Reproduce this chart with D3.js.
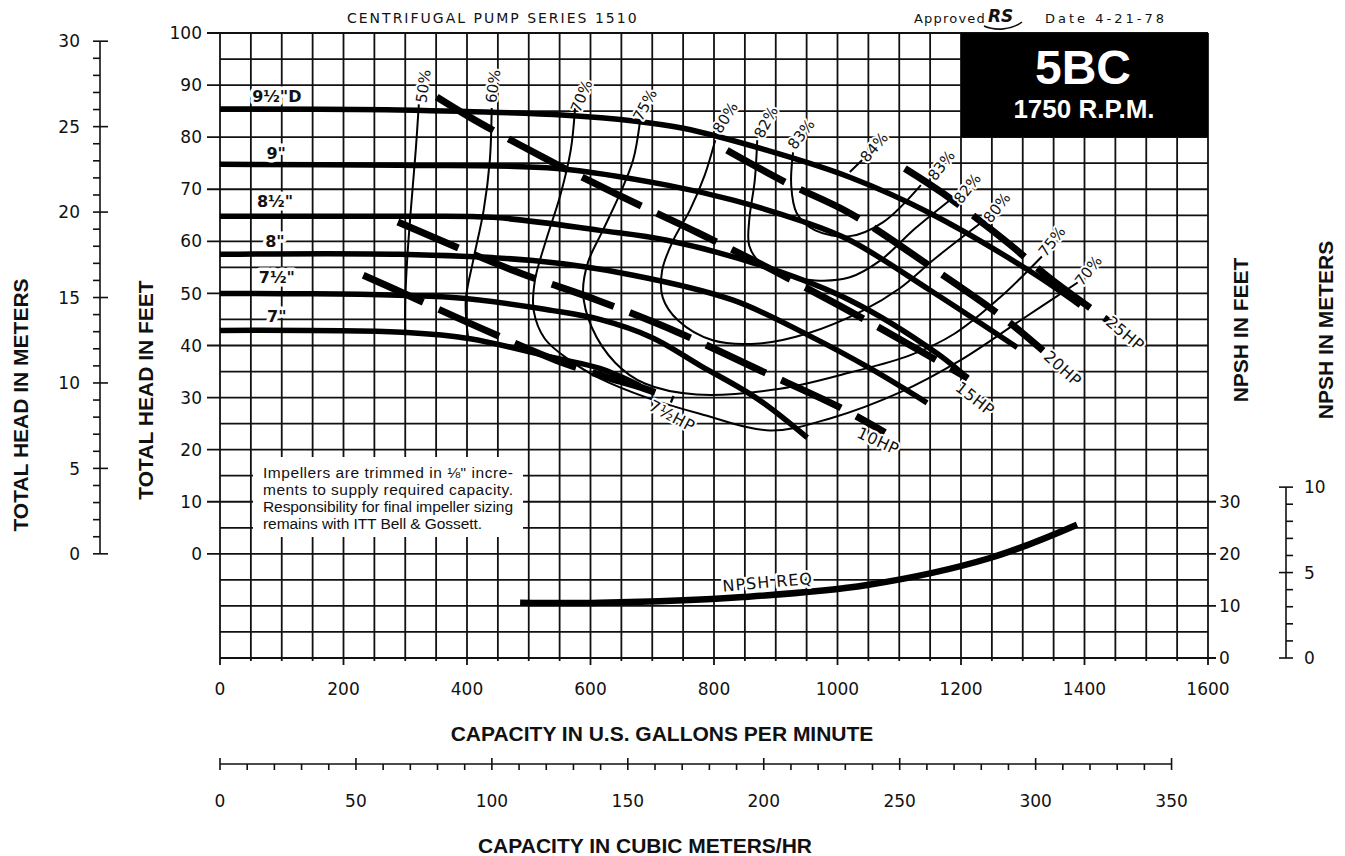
<!DOCTYPE html>
<html>
<head>
<meta charset="utf-8">
<script src="https://cdn.jsdelivr.net/npm/d3@7"></script>
<style>
  body { margin: 0; background: #fff; }
  svg { display: block; }
  .draft { font-family: "DejaVu Sans", sans-serif; fill: #111; }
  .bold { font-family: "Liberation Sans", Arial, sans-serif; font-weight: bold; fill: #111; }
  .narrow { font-family: "Liberation Sans Narrow", "Liberation Sans", Arial, sans-serif; fill: #111; }
  .halo { paint-order: stroke; stroke: #fff; stroke-linejoin: round; }
</style>
</head>
<body>
<svg id="chart" width="1345" height="856"></svg>
<script>
// ---- data (gpm, feet) ----
var gpmTicks = [0, 200, 400, 600, 800, 1000, 1200, 1400, 1600];
var headTicks = [0, 10, 20, 30, 40, 50, 60, 70, 80, 90, 100];
var meterTicks = [0, 5, 10, 15, 20, 25, 30];
var npshTicks = [0, 10, 20, 30];
var npshMeterTicks = [0, 5, 10];
var m3hTicks = [0, 50, 100, 150, 200, 250, 300, 350];

// impeller curves
var imp95 = [[0,85.4],[290,85.2],[560,84.2],[670,83.1],[750,81.7],[885,77.5],[1020,72.3],[1150,65.4],[1310,54.4],[1393,47.7]];
var imp90 = [[0,74.8],[291,74.6],[546,74.0],[724,70.8],[831,67.9],[939,64.0],[1020,60.2],[1150,50.6],[1291,39.6]];
var imp85 = [[0,64.8],[291,64.8],[442,64.6],[615,62.1],[724,60.2],[886,55.0],[1020,48.7],[1161,38.5],[1211,33.7]];
var imp80 = [[0,57.5],[291,57.5],[507,56.3],[669,53.5],[831,48.7],[954,41.9],[1053,35.6],[1145,29.0]];
var imp75 = [[0,50.0],[377,49.2],[539,46.7],[615,45.0],[700,41.5],[777,36.2],[870,29.8],[951,22.3]];
var imp70 = [[0,42.9],[303,42.5],[405,41.3],[539,37.7],[615,35.6],[680,32.3]];
var impNames = ["9½\"D", "9\"", "8½\"", "8\"", "7½\"", "7\""];
var impLabelAt = [[92,87.9],[91,76.9],[89,67.7],[89,60.0],[92,53.1],[92,45.6]];

// brake horsepower lines
var hp75 = [[232,53.5],[283,50.8],[402,44.4],[546,37.1],[632,33.7],[683,31.9],[734,29.6]];
var hp10 = [[288,63.7],[475,54.4],[611,48.7],[742,42.5],[875,35.2],[1004,28.1],[1077,23.3]];
var hp15 = [[351,87.7],[405,83.8],[522,76.2],[643,69.0],[773,61.7],[896,54.4],[1053,44.4],[1211,33.7]];
var hp20 = [[821,77.5],[918,71.2],[1020,65.4],[1155,54.8],[1268,45.4],[1333,39.0]];
var hp25 = [[1109,74.0],[1171,69.2],[1275,59.8],[1344,52.9],[1438,44.8]];
var hpNames = ["7½HP", "10HP", "15HP", "20HP", "25HP"];
var hpLabelAt = [[732,26.5],[1066,21.7],[1223,29.8],[1365,35.6],[1466,42.3]];
var hpLabelRot = [28, 25, 38, 42, 40];

// efficiency contours
var eff50 = [[322,86.3],[317,77.5],[309,66.0],[303,56.3],[300,48.7],[300,41.9]];
var eff60 = [[440,85.6],[437,75.6],[427,66.0],[410,56.3],[398,48.7],[402,41.3]];
var eff70 = [[575,85.6],[568,77.5],[551,68.8],[528,60.2],[510,52.5],[508,46.7],[526,41.3],[567,37.1],[615,33.7],[696,29.8],[777,26.9],[891,23.7],[988,26.0],[1101,31.0],[1198,37.1],[1296,44.8],[1389,52.1]];
var eff75 = [[680,82.9],[669,75.6],[648,69.2],[620,62.1],[596,56.0],[588,50.2],[602,43.5],[640,36.7],[688,32.7],[772,30.6],[907,31.7],[1020,34.8],[1117,38.1],[1190,42.3],[1263,49.2],[1331,57.1]];
var eff80 = [[802,79.4],[785,72.7],[761,66.0],[734,60.2],[716,54.4],[717,49.2],[742,44.8],[798,41.0],[874,40.4],[951,42.3],[1041,46.7],[1101,51.0],[1158,56.7],[1234,63.7]];
var eff82 = [[870,79.4],[866,71.7],[857,64.0],[857,59.2],[874,56.0],[915,53.7],[964,52.5],[1020,53.1],[1069,56.3],[1126,62.5],[1182,67.9]];
var eff83 = [[928,77.1],[925,70.8],[934,65.4],[964,62.1],[1020,61.0],[1074,63.7],[1135,70.8]];
var eff84Leader = [[1020,73.3],[1040,75.6]];
var effNames = ["50%", "60%", "70%", "75%", "80%", "82%", "83%", "84%"];
var effLabelAt = [[329,89.8],[442,89.8],[585,87.9],[688,86.2],[818,83.8],[884,82.9],[941,80.6],[1059,78.1]];
var effLabelRot = [-82, -82, -68, -62, -58, -62, -52, -50];
var effRightNames = ["70%", "75%", "80%", "82%", "83%"];
var effRightAt = [[1406,54.4],[1347,60.0],[1258,66.5],[1210,70.2],[1168,74.6]];

// NPSH required (gpm, feet of NPSH)
var npshReq = [[486,10.6],[615,10.6],[847,11.7],[1048,14.0],[1247,19.2],[1388,25.6]];

var noteLines = ["Impellers are trimmed in \u215B\" incre-", "ments to supply required capacity.",
                 "Responsibility for final impeller sizing", "remains with ITT Bell & Gossett."];

// ---- scales ----
var x = d3.scaleLinear().domain([0, 1600]).range([220, 1208]);
var y = d3.scaleLinear().domain([-20, 100]).range([658, 33]);
var yM = d3.scaleLinear().domain([0, 30]).range([y(0), y(30 * 3.28084)]);     // meters of head
var yN = d3.scaleLinear().domain([0, 30]).range([y(-20), y(10)]);            // NPSH feet
var yNM = d3.scaleLinear().domain([0, 10]).range([y(-20), y(-20 + 32.8084)]); // NPSH meters
var xM = d3.scaleLinear().domain([0, 350]).range([x(0), x(350 * 4.40287)]);   // m3/hr

var svg = d3.select("#chart");
svg.append("rect").attr("width", 1345).attr("height", 856).attr("fill", "#fff");

// grid
var grid = svg.append("g").attr("stroke", "#111").attr("stroke-width", 1.8);
grid.selectAll("line.v").data(d3.range(0, 1601, 50)).enter().append("line")
    .attr("x1", d => x(d)).attr("x2", d => x(d))
    .attr("y1", y(100)).attr("y2", d => y(-20) + (d % 200 === 0 ? 7 : 3));
grid.selectAll("line.h").data(d3.range(-20, 101, 5)).enter().append("line")
    .attr("y1", d => y(d)).attr("y2", d => y(d))
    .attr("x1", d => (d >= 0 && d % 10 === 0) ? x(0) - 13 : x(0))
    .attr("x2", d => x(1600) + ((d + 20) % 10 === 0 && d <= 10 ? 8 : 0));

// note box
svg.append("rect").attr("x", 253).attr("y", 457).attr("width", 270).attr("height", 80).attr("fill", "#fff");
svg.selectAll("text.note").data(noteLines).enter().append("text")
    .attr("class", "narrow")
    .attr("x", 263).attr("y", (d, i) => 478 + i * 17)
    .attr("font-size", 15.5)
    .attr("textLength", (d, i) => i < 3 ? 250 : 219)
    .attr("lengthAdjust", "spacing")
    .text(d => d);

// model box
svg.append("rect").attr("x", x(1200)).attr("y", y(100))
    .attr("width", x(1600) - x(1200)).attr("height", y(80) - y(100)).attr("fill", "#000");
svg.append("text").attr("class", "bold").attr("x", 1083).attr("y", 84)
    .attr("text-anchor", "middle").attr("font-size", 48).style("fill", "#fff").text("5BC");
svg.append("text").attr("class", "bold").attr("x", 1084).attr("y", 118)
    .attr("text-anchor", "middle").attr("font-size", 26).style("fill", "#fff").text("1750 R.P.M.");

// curves
var line = d3.line().x(d => x(d[0])).y(d => y(d[1])).curve(d3.curveCatmullRom.alpha(0.5));
var curves = svg.append("g").attr("fill", "none").attr("stroke", "#000");

[eff50, eff60, eff70, eff75, eff80, eff82, eff83, eff84Leader].forEach(function(c) {
    curves.append("path").attr("d", line(c)).attr("stroke-width", 2);
});
[imp95, imp90, imp85, imp80, imp75, imp70].forEach(function(c) {
    curves.append("path").attr("d", line(c)).attr("stroke-width", 5.5);
});
[hp75, hp10, hp15, hp20, hp25].forEach(function(c) {
    curves.append("path").attr("d", line(c)).attr("stroke-width", 7)
        .attr("stroke-dasharray", "66,17");
});
var npshLine = d3.line().x(d => x(d[0])).y(d => yN(d[1])).curve(d3.curveCatmullRom.alpha(0.5));
curves.append("path").attr("d", npshLine(npshReq)).attr("stroke-width", 6.5);

// curve labels
var labels = svg.append("g").attr("class", "draft");
labels.selectAll("text.imp").data(impNames).enter().append("text")
    .attr("class", "halo").attr("stroke-width", 7)
    .attr("x", (d, i) => x(impLabelAt[i][0])).attr("y", (d, i) => y(impLabelAt[i][1]))
    .attr("dy", "0.36em").attr("text-anchor", "middle").attr("font-size", 16)
    .attr("font-weight", "bold").text(d => d);
labels.selectAll("text.eff").data(effNames).enter().append("text")
    .attr("class", "halo").attr("stroke-width", 4)
    .attr("transform", (d, i) => "translate(" + x(effLabelAt[i][0]) + "," + y(effLabelAt[i][1]) + ") rotate(" + effLabelRot[i] + ")")
    .attr("dy", "0.36em").attr("text-anchor", "middle").attr("font-size", 15).text(d => d);
labels.selectAll("text.effr").data(effRightNames).enter().append("text")
    .attr("class", "halo").attr("stroke-width", 4)
    .attr("transform", (d, i) => "translate(" + x(effRightAt[i][0]) + "," + y(effRightAt[i][1]) + ") rotate(-52)")
    .attr("dy", "0.36em").attr("text-anchor", "middle").attr("font-size", 15).text(d => d);
labels.selectAll("text.hp").data(hpNames).enter().append("text")
    .attr("class", "halo").attr("stroke-width", 4)
    .attr("transform", (d, i) => "translate(" + x(hpLabelAt[i][0]) + "," + y(hpLabelAt[i][1]) + ") rotate(" + hpLabelRot[i] + ")")
    .attr("dy", "0.36em").attr("text-anchor", "middle").attr("font-size", 16).attr("letter-spacing", 0.5).text(d => d);
labels.append("text").attr("class", "halo").attr("stroke-width", 5)
    .attr("transform", "translate(" + x(887) + "," + yN(14.6) + ") rotate(-5)")
    .attr("dy", "0.36em").attr("text-anchor", "middle").attr("font-size", 16)
    .attr("letter-spacing", 1).text("NPSH REQ");

// axes: feet (left), npsh feet (right), gpm (bottom)
var axt = svg.append("g").attr("class", "draft").attr("font-size", 17);
axt.selectAll("text.hf").data(headTicks).enter().append("text")
    .attr("x", 202).attr("y", d => y(d)).attr("dy", "0.36em").attr("text-anchor", "end").text(d => d);
axt.selectAll("text.nf").data(npshTicks).enter().append("text")
    .attr("x", 1219).attr("y", d => yN(d)).attr("dy", "0.36em").text(d => d);
axt.selectAll("text.g").data(gpmTicks).enter().append("text")
    .attr("x", d => x(d)).attr("y", 689).attr("dy", "0.36em").attr("text-anchor", "middle").text(d => d);

// meters of head (far left)
var am = svg.append("g").attr("stroke", "#111").attr("stroke-width", 1.6);
am.append("line").attr("x1", 100).attr("x2", 100).attr("y1", yM(0)).attr("y2", yM(30));
am.selectAll("line.t").data(d3.range(0, 31)).enter().append("line")
    .attr("x1", 93).attr("x2", d => d % 5 === 0 ? 108 : 100)
    .attr("y1", d => yM(d)).attr("y2", d => yM(d));
axt.selectAll("text.m").data(meterTicks).enter().append("text")
    .attr("x", 80).attr("y", d => yM(d)).attr("dy", "0.36em").attr("text-anchor", "end").text(d => d);

// NPSH meters (far right)
var anm = svg.append("g").attr("stroke", "#111").attr("stroke-width", 1.6);
anm.append("line").attr("x1", 1286).attr("x2", 1286).attr("y1", yNM(0)).attr("y2", yNM(10));
anm.selectAll("line.t").data(d3.range(0, 11)).enter().append("line")
    .attr("x1", d => d % 5 === 0 ? 1279 : 1286).attr("x2", 1293)
    .attr("y1", d => yNM(d)).attr("y2", d => yNM(d));
axt.selectAll("text.nm").data(npshMeterTicks).enter().append("text")
    .attr("x", 1304).attr("y", d => yNM(d)).attr("dy", "0.36em").text(d => d);

// cubic meters per hour (bottom)
var ah = svg.append("g").attr("stroke", "#111").attr("stroke-width", 1.6);
ah.append("line").attr("x1", xM(0)).attr("x2", xM(350)).attr("y1", 764).attr("y2", 764);
ah.selectAll("line.t").data(d3.range(0, 351, 10)).enter().append("line")
    .attr("x1", d => xM(d)).attr("x2", d => xM(d))
    .attr("y1", d => d % 50 === 0 ? 758 : 764).attr("y2", 770);
axt.selectAll("text.mh").data(m3hTicks).enter().append("text")
    .attr("x", d => xM(d)).attr("y", 801).attr("dy", "0.36em").attr("text-anchor", "middle").text(d => d);

// titles
var tt = svg.append("g");
tt.append("text").attr("class", "draft").attr("x", 347).attr("y", 23).attr("font-size", 14)
    .attr("letter-spacing", 2).text("CENTRIFUGAL PUMP SERIES 1510");
tt.append("text").attr("class", "draft").attr("x", 914).attr("y", 23).attr("font-size", 13)
    .attr("letter-spacing", 1.2).text("Approved");
tt.append("text").attr("class", "draft").attr("x", 988).attr("y", 22).attr("font-size", 17)
    .attr("font-style", "italic").attr("font-weight", "bold").text("RS");
tt.append("path").attr("d", "M984,26 C995,31 1012,30 1022,22").attr("fill", "none")
    .attr("stroke", "#111").attr("stroke-width", 1.6);
tt.append("text").attr("class", "draft").attr("x", 1045).attr("y", 23).attr("font-size", 13)
    .attr("letter-spacing", 3).text("Date 4-21-78");

function vtitle(txt, cx, cy) {
    tt.append("text").attr("class", "bold").attr("font-size", 21)
        .attr("transform", "translate(" + cx + "," + cy + ") rotate(-90)")
        .attr("text-anchor", "middle").attr("dy", "0.36em").text(txt);
}
vtitle("TOTAL HEAD IN METERS", 20, 405);
vtitle("TOTAL HEAD IN FEET", 145, 390);
vtitle("NPSH IN FEET", 1240, 330);
vtitle("NPSH IN METERS", 1325, 330);
tt.append("text").attr("class", "bold").attr("font-size", 21).attr("x", 662).attr("y", 733)
    .attr("text-anchor", "middle").attr("dy", "0.36em").text("CAPACITY IN U.S. GALLONS PER MINUTE");
tt.append("text").attr("class", "bold").attr("font-size", 21).attr("x", 645).attr("y", 845)
    .attr("text-anchor", "middle").attr("dy", "0.36em").text("CAPACITY IN CUBIC METERS/HR");
</script>
</body>
</html>
